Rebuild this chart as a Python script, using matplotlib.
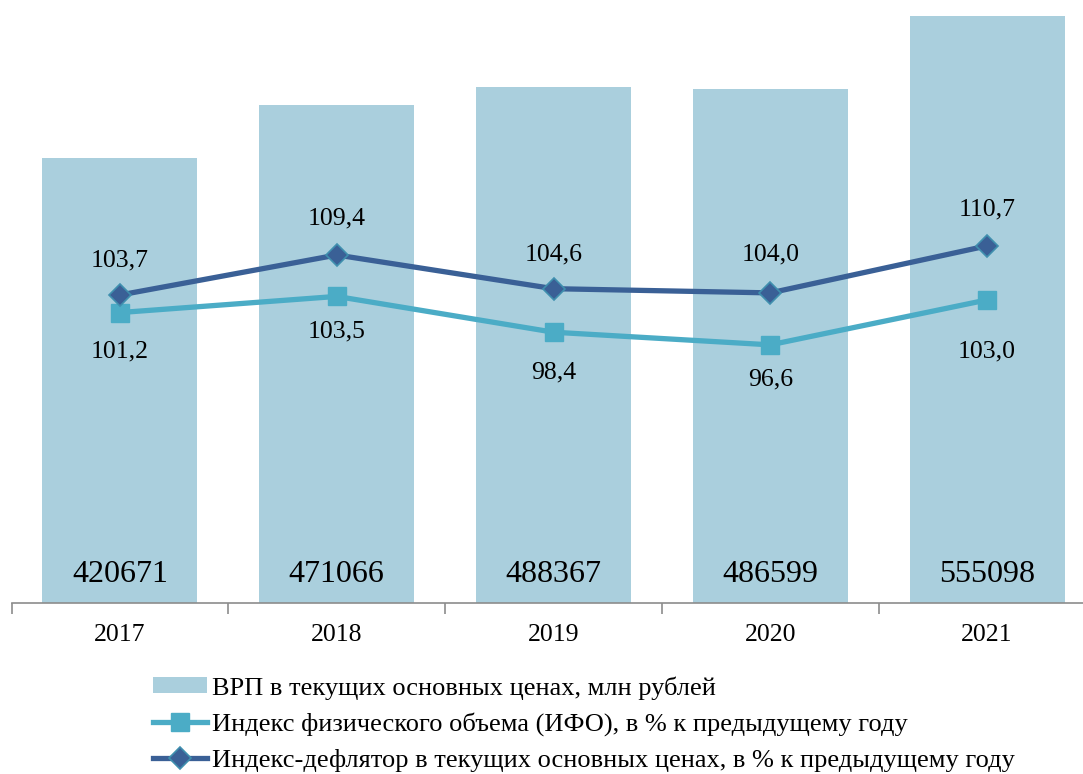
import matplotlib
matplotlib.use("Agg")
import matplotlib.pyplot as plt
import numpy as np
from matplotlib.lines import Line2D
from matplotlib.patches import Patch

years = ["2017", "2018", "2019", "2020", "2021"]
grp = [420671, 471066, 488367, 486599, 555098]
ifo = [101.2, 103.5, 98.4, 96.6, 103.0]
deflator = [103.7, 109.4, 104.6, 104.0, 110.7]

ifo_labels = ["101,2", "103,5", "98,4", "96,6", "103,0"]
defl_labels = ["103,7", "109,4", "104,6", "104,0", "110,7"]

# label offsets in pixels (style)
ifo_off = [39, 35, 40, 35, 52]
defl_off = [35, 37, 34, 38, 36]

plt.rcParams['font.family'] = ['Liberation Serif', 'DejaVu Serif']

W, H = 1083, 774
fig = plt.figure(figsize=(W / 100, H / 100), dpi=100)
left_px, right_px = 11.6, 1095.4
top_px, bot_px = 11, 603
ax = fig.add_axes([left_px / W, 1 - bot_px / H, (right_px - left_px) / W, (bot_px - top_px) / H])

x = np.arange(len(years))
bar_color = "#AACFDD"
ax.bar(x, grp, width=0.715, color=bar_color, zorder=1)
ax.set_xlim(-0.5, 4.5)
ax.set_ylim(0, 560000)
for xi, v in zip(x, grp):
    ax.annotate(f"{v}", xy=(xi, 0), xycoords="data", xytext=(0, (603 - 575) * 0.72),
                textcoords="offset points", ha="center", va="center", fontsize=23)

for s in ["top", "right", "left"]:
    ax.spines[s].set_visible(False)
ax.spines["bottom"].set_color("#8C8C8C")
ax.spines["bottom"].set_linewidth(1.2)
ax.set_yticks([])
ax.set_xticks(np.arange(-0.5, 5.0, 1.0), minor=False)
ax.set_xticklabels([])
ax.tick_params(axis="x", which="major", length=8, color="#8C8C8C", width=1.2, direction="out")
ax.set_xticks(x, minor=True)
ax.set_xticklabels(years, minor=True, fontsize=18.5)
ax.tick_params(axis="x", which="minor", length=0, pad=15)

ax2 = ax.twinx()
ax2.set_ylim(103.7 - (bot_px - 295) / 7.02, 103.7 + (295 - top_px) / 7.02)
ax2.set_axis_off()
ifo_color = "#4BACC6"
defl_color = "#3A6096"
ax2.plot(x, ifo, color=ifo_color, lw=3.8, marker="s", ms=13, zorder=3)
ax2.plot(x, deflator, color=defl_color, lw=3.8, marker="D", ms=11,
         markeredgecolor="#3F8FAE", markeredgewidth=1.2, zorder=4)
for xi, v, lab, off in zip(x, ifo, ifo_labels, ifo_off):
    ax2.annotate(lab, xy=(xi, v), xytext=(0, -off * 0.72), textcoords="offset points",
                 ha="center", va="center", fontsize=18.5)
for xi, v, lab, off in zip(x, deflator, defl_labels, defl_off):
    ax2.annotate(lab, xy=(xi, v), xytext=(0, off * 0.72), textcoords="offset points",
                 ha="center", va="center", fontsize=18.5)

handles = [
    Patch(facecolor=bar_color, edgecolor="none"),
    Line2D([], [], color=ifo_color, lw=3.8, marker="s", ms=13),
    Line2D([], [], color=defl_color, lw=3.8, marker="D", ms=11,
           markeredgecolor="#3F8FAE", markeredgewidth=1.2),
]
labels = [
    "ВРП в текущих основных ценах, млн рублей",
    "Индекс физического объема (ИФО), в % к предыдущему году",
    "Индекс-дефлятор в текущих основных ценах, в % к предыдущему году",
]
fig.legend(handles, labels, loc="upper left", bbox_to_anchor=(153 / W, 1 - 676 / H),
           frameon=False, fontsize=19, handlelength=2.05, handletextpad=0.2,
           labelspacing=0.48, borderaxespad=0, borderpad=0, handleheight=0.55)

fig.savefig("out.png", dpi=100)
